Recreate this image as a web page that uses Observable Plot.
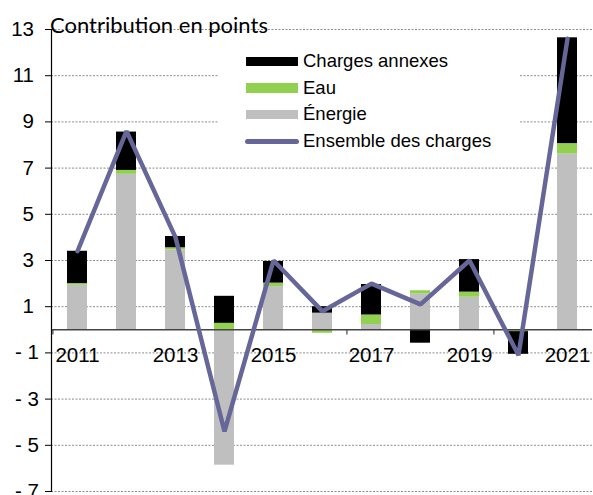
<!DOCTYPE html>
<html>
<head>
<meta charset="utf-8">
<script src="https://cdn.jsdelivr.net/npm/d3@7"></script>
<script src="https://cdn.jsdelivr.net/npm/@observablehq/plot@0.6"></script>
<style>
  body { margin: 0; background: #fff; }
  #wrap { position: relative; width: 593px; height: 495px; font-family: "Liberation Sans", Arial, sans-serif; color: #000; }
  #title { position: absolute; left: 50px; top: 12px; font-family: Lato, "Open Sans", sans-serif; font-size: 22px; line-height: 26px; white-space: nowrap; }
  #legend { position: absolute; left: 218px; top: 46px; width: 301px; height: 108px; background: #fff; }
  .item { position: absolute; left: 0; height: 26px; width: 301px; }
  .sw { position: absolute; left: 28px; width: 52px; }
  .lab { position: absolute; left: 85px; top: 0; font-size: 18.5px; line-height: 26px; white-space: nowrap; }
</style>
</head>
<body>
<div id="wrap">
  <div id="chart"></div>
  <div id="title">Contribution en points</div>
  <div id="legend"></div>
</div>
<script>
// Années et contributions (en points) de chaque poste de charges
const years = ["2011", "2012", "2013", "2014", "2015", "2016", "2017", "2018", "2019", "2020", "2021"];
const energie = [1.93, 6.73, 3.46, -5.86, 1.87, 0.72, 0.23, 1.55, 1.41, -0.02, 7.61];
const eau = [0.07, 0.17, 0.09, 0.28, 0.15, -0.15, 0.41, 0.14, 0.22, -0.06, 0.45];
const chargesAnnexes = [1.40, 1.66, 0.49, 1.17, 0.94, 0.28, 1.32, -0.58, 1.41, -0.98, 4.58];
const ensemble = [3.4, 8.6, 4.0, -4.4, 3.0, 0.8, 2.0, 1.1, 3.0, -1.1, 12.6];

const yTicks = [-7, -5, -3, -1, 1, 3, 5, 7, 9, 11, 13];
const yearLabels = ["2011", "2013", "2015", "2017", "2019", "2021"];
const tickYears = ["2011", "2014", "2017", "2020"];

const seriesNames = ["Énergie", "Eau", "Charges annexes"];
const seriesColors = ["#bfbfbf", "#92d050", "#000000"];
const lineName = "Ensemble des charges";
const lineColor = "#666699";

// Table longue pour l'empilement des barres
const stacked = [];
years.forEach((year, i) => {
  stacked.push({year, series: seriesNames[0], value: energie[i]});
  stacked.push({year, series: seriesNames[1], value: eau[i]});
  stacked.push({year, series: seriesNames[2], value: chargesAnnexes[i]});
});
const totals = years.map((year, i) => ({year, value: ensemble[i]}));

const W = 593, H = 495, mL = 51, mR = 1;
const step = (W - mL - mR) / years.length;

const chart = Plot.plot({
  width: W,
  height: H,
  marginLeft: mL,
  marginRight: mR,
  marginTop: 29,
  marginBottom: 4,
  style: { fontFamily: "'Liberation Sans', Arial, sans-serif", fontSize: "20.5px", color: "#000", background: "#fff" },
  x: { type: "band", domain: years, paddingInner: 0.6, paddingOuter: 0.3, axis: null },
  y: { domain: [-7, 13], axis: null },
  color: { domain: seriesNames, range: seriesColors },
  marks: [
    Plot.gridY(yTicks, { stroke: "#8c8c8c", strokeOpacity: 1, strokeWidth: 1, strokeDasharray: "2,1.5" }),
    Plot.barY(stacked, { x: "year", y: "value", fill: "series", order: seriesNames }),
    Plot.ruleY([0], { stroke: "#444", strokeWidth: 1.4 }),
    Plot.ruleX(tickYears, { x: d => d, y1: 0, y2: -0.22, dx: -step / 2, stroke: "#444", strokeWidth: 1.2 }),
    Plot.frame({ anchor: "left", stroke: "#000", strokeWidth: 1.2 }),
    Plot.axisY(yTicks.filter(d => d > 0), { label: null, tickSize: 6, tickPadding: 11.5, fontSize: 20.5, tickFormat: d => String(d) }),
    Plot.axisY(yTicks.filter(d => d < 0), { label: null, tickSize: 6, tickPadding: 6.5, fontSize: 20.5, tickFormat: d => "- " + Math.abs(d) }),
    Plot.text(yearLabels, { x: d => d, y: 0, dy: 26, fontSize: 20.5, fill: "#000" }),
    Plot.line(totals, { x: "year", y: "value", stroke: lineColor, strokeWidth: 4.5, strokeLinejoin: "miter" })
  ]
});
document.getElementById("chart").appendChild(chart);

// Légende : barres puis ligne
const legend = document.getElementById("legend");
const entries = [
  { name: seriesNames[2], color: seriesColors[2], kind: "bar" },
  { name: seriesNames[1], color: seriesColors[1], kind: "bar" },
  { name: seriesNames[0], color: seriesColors[0], kind: "bar" },
  { name: lineName, color: lineColor, kind: "line" }
];
entries.forEach((e, i) => {
  const item = document.createElement("div");
  item.className = "item";
  item.style.top = (2 + i * 26.7) + "px";
  const sw = document.createElement("div");
  sw.className = "sw";
  sw.style.background = e.color;
  if (e.kind === "bar") { sw.style.top = "8.5px"; sw.style.height = "9.5px"; }
  else { sw.style.top = "11px"; sw.style.height = "4.5px"; sw.style.borderRadius = "3px"; sw.style.left = "27px"; sw.style.width = "54px"; }
  const lab = document.createElement("div");
  lab.className = "lab";
  lab.textContent = e.name;
  item.appendChild(sw);
  item.appendChild(lab);
  legend.appendChild(item);
});
</script>
</body>
</html>
